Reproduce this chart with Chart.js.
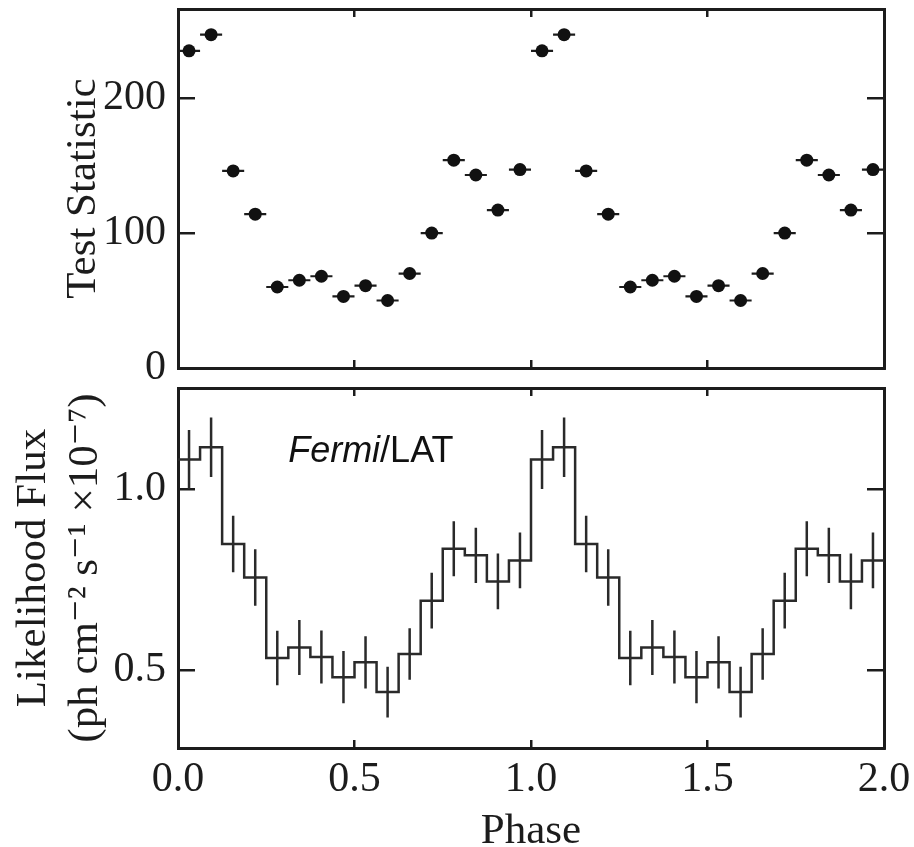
<!DOCTYPE html>
<html><head><meta charset="utf-8">
<script src="https://cdn.jsdelivr.net/npm/chart.js@4.4.1/dist/chart.umd.min.js"></script>
<style>
html,body{margin:0;padding:0;background:#fff;overflow:hidden;}
#wrap{position:relative;width:914px;height:847px;background:#fff;}
#c1{position:absolute;left:0;top:0;}
#c2{position:absolute;left:0;top:380px;}
</style></head><body>
<div id="wrap"><canvas id="c1" width="914" height="380"></canvas><canvas id="c2" width="914" height="467"></canvas></div>
<script>
// ---- data (two cycles of 16 phase bins) ----
const phase = [0.03125, 0.09375, 0.15625, 0.21875, 0.28125, 0.34375, 0.40625, 0.46875,
               0.53125, 0.59375, 0.65625, 0.71875, 0.78125, 0.84375, 0.90625, 0.96875,
               1.03125, 1.09375, 1.15625, 1.21875, 1.28125, 1.34375, 1.40625, 1.46875,
               1.53125, 1.59375, 1.65625, 1.71875, 1.78125, 1.84375, 1.90625, 1.96875];
const binHalfWidth = 0.03125;
const testStatistic = [235, 247, 146, 114, 60, 65, 68, 53, 61, 50, 70, 100, 154, 143, 117, 147,
                       235, 247, 146, 114, 60, 65, 68, 53, 61, 50, 70, 100, 154, 143, 117, 147];
const likelihoodFlux = [1.081, 1.115, 0.848, 0.756, 0.534, 0.563, 0.537, 0.481, 0.522, 0.440, 0.545, 0.692, 0.835, 0.817, 0.745, 0.803,
                        1.081, 1.115, 0.848, 0.756, 0.534, 0.563, 0.537, 0.481, 0.522, 0.440, 0.545, 0.692, 0.835, 0.817, 0.745, 0.803];
const fluxError = [0.081, 0.082, 0.078, 0.078, 0.075, 0.076, 0.073, 0.072, 0.072, 0.070, 0.071, 0.077, 0.076, 0.076, 0.077, 0.077,
                   0.081, 0.082, 0.078, 0.078, 0.075, 0.076, 0.073, 0.072, 0.072, 0.070, 0.071, 0.077, 0.076, 0.076, 0.077, 0.077];
const phaseTicks = [0.0, 0.5, 1.0, 1.5, 2.0];
const tsTicks = [0, 100, 200];
const fluxTicks = [0.5, 1.0];
const panelLabel = 'Fermi';
const panelLabelRest = '/LAT';

// ---- styling ----
const ink = '#1c1c1c';
const serif = "'Liberation Serif', 'Times New Roman', 'DejaVu Serif', serif";
const sans = "'Liberation Sans', Arial, sans-serif";
Chart.defaults.color = ink;
Chart.defaults.font.family = serif;

function setTicks(arr) { return s => { s.ticks = arr.map(v => ({ value: v })); }; }
function fixSize(dim, val) {
  return s => { s[dim] = val; s.paddingTop = 0; s.paddingBottom = 0; s.paddingLeft = 0; s.paddingRight = 0; };
}
function gridOpts(len) {
  return { display: true, drawOnChartArea: false, drawTicks: true, tickLength: len,
           color: ink, tickColor: ink, lineWidth: 2.5, tickWidth: 2.5 };
}
const borderOpts = { display: true, color: ink, width: 3 };
const tickFont = { family: serif, size: 42, lineHeight: 1.2 };
const titleFont = { family: serif, size: 43, lineHeight: 1.2 };

// top-panel horizontal error bars
const hErrPlugin = {
  id: 'hErr',
  beforeDatasetsDraw(chart) {
    const { ctx, scales: { x, y } } = chart;
    ctx.save();
    ctx.strokeStyle = ink; ctx.lineWidth = 2.2;
    ctx.beginPath();
    phase.forEach((p, i) => {
      const py = y.getPixelForValue(testStatistic[i]);
      ctx.moveTo(x.getPixelForValue(p - binHalfWidth), py);
      ctx.lineTo(x.getPixelForValue(p + binHalfWidth), py);
    });
    ctx.stroke();
    ctx.restore();
  }
};

// bottom-panel vertical error bars + label
const vErrPlugin = {
  id: 'vErr',
  afterDatasetsDraw(chart) {
    const { ctx, scales: { x, y } } = chart;
    ctx.save();
    ctx.strokeStyle = '#2a2a2a'; ctx.lineWidth = 2.5;
    ctx.beginPath();
    phase.forEach((p, i) => {
      const px = x.getPixelForValue(p);
      ctx.moveTo(px, y.getPixelForValue(likelihoodFlux[i] - fluxError[i]));
      ctx.lineTo(px, y.getPixelForValue(likelihoodFlux[i] + fluxError[i]));
    });
    ctx.stroke();
    // panel label
    const lx = x.getPixelForValue(0.312), ly = y.getPixelForValue(1.075);
    ctx.fillStyle = '#111';
    ctx.textBaseline = 'alphabetic'; ctx.textAlign = 'left';
    ctx.font = 'italic 36px ' + sans;
    ctx.fillText(panelLabel, lx, ly);
    const w = ctx.measureText(panelLabel).width;
    ctx.font = '36px ' + sans;
    ctx.fillText(panelLabelRest, lx + w, ly);
    ctx.restore();
  }
};

// ---- top panel: Test Statistic ----
new Chart(document.getElementById('c1'), {
  type: 'scatter',
  data: { datasets: [{
    data: phase.map((p, i) => ({ x: p, y: testStatistic[i] })),
    pointRadius: 6.5, pointBackgroundColor: '#111', pointBorderWidth: 0, pointHoverRadius: 6.5
  }] },
  options: {
    responsive: false, animation: false, devicePixelRatio: 1,
    layout: { padding: 0, autoPadding: false },
    plugins: { legend: { display: false }, tooltip: { enabled: false } },
    scales: {
      x: { type: 'linear', position: 'bottom', min: 0, max: 2, afterBuildTicks: setTicks(phaseTicks),
           ticks: { display: false }, grid: gridOpts(-8), border: borderOpts, afterFit: fixSize('height', 12) },
      xTop: { type: 'linear', axis: 'x', position: 'top', min: 0, max: 2, afterBuildTicks: setTicks(phaseTicks),
           ticks: { display: false }, grid: gridOpts(-8), border: borderOpts, afterFit: fixSize('height', 9) },
      y: { type: 'linear', position: 'left', min: 0, max: 266, afterBuildTicks: setTicks(tsTicks),
           ticks: { font: tickFont, padding: 29, color: ink }, grid: gridOpts(-17), border: borderOpts,
           title: { display: true, text: 'Test Statistic', font: titleFont, color: ink, padding: { top: 58, bottom: 0 } },
           afterFit: fixSize('width', 178) },
      yRight: { type: 'linear', axis: 'y', position: 'right', min: 0, max: 266, afterBuildTicks: setTicks(tsTicks),
           ticks: { display: false }, grid: gridOpts(-17), border: borderOpts, afterFit: fixSize('width', 30) }
    }
  },
  plugins: [hErrPlugin]
});

// ---- bottom panel: Likelihood Flux histogram ----
const stepPoints = [];
phase.forEach((p, i) => {
  stepPoints.push({ x: p - binHalfWidth, y: likelihoodFlux[i] });
  stepPoints.push({ x: p + binHalfWidth, y: likelihoodFlux[i] });
});

new Chart(document.getElementById('c2'), {
  type: 'line',
  data: { datasets: [{
    data: stepPoints, borderColor: '#2a2a2a', borderWidth: 2.5, pointRadius: 0, tension: 0, fill: false
  }] },
  options: {
    responsive: false, animation: false, devicePixelRatio: 1,
    layout: { padding: 0, autoPadding: false },
    plugins: { legend: { display: false }, tooltip: { enabled: false } },
    scales: {
      x: { type: 'linear', position: 'bottom', min: 0, max: 2, afterBuildTicks: setTicks(phaseTicks),
           ticks: { font: tickFont, padding: 15, color: ink, maxRotation: 0, callback: v => Number(v).toFixed(1) },
           grid: gridOpts(-8), border: borderOpts,
           title: { display: true, text: 'Phase', font: titleFont, color: ink, padding: { top: 0, bottom: -11 } },
           afterFit: fixSize('height', 99) },
      xTop: { type: 'linear', axis: 'x', position: 'top', min: 0, max: 2, afterBuildTicks: setTicks(phaseTicks),
           ticks: { display: false }, grid: gridOpts(-8), border: borderOpts, afterFit: fixSize('height', 8) },
      y: { type: 'linear', position: 'left', min: 0.286, max: 1.278, afterBuildTicks: setTicks(fluxTicks),
           ticks: { font: tickFont, padding: 29, color: ink, callback: v => Number(v).toFixed(1) },
           grid: gridOpts(-17), border: borderOpts,
           title: { display: true, text: ['Likelihood Flux', '(ph cm\u207B\u00B2 s\u207B\u00B9 \u00D710\u207B\u2077)'],
                    font: titleFont, color: ink, padding: { top: 8, bottom: 0 } },
           afterFit: fixSize('width', 178) },
      yRight: { type: 'linear', axis: 'y', position: 'right', min: 0.286, max: 1.278, afterBuildTicks: setTicks(fluxTicks),
           ticks: { display: false }, grid: gridOpts(-17), border: borderOpts, afterFit: fixSize('width', 30) }
    }
  },
  plugins: [vErrPlugin]
});
</script>
</body></html>
